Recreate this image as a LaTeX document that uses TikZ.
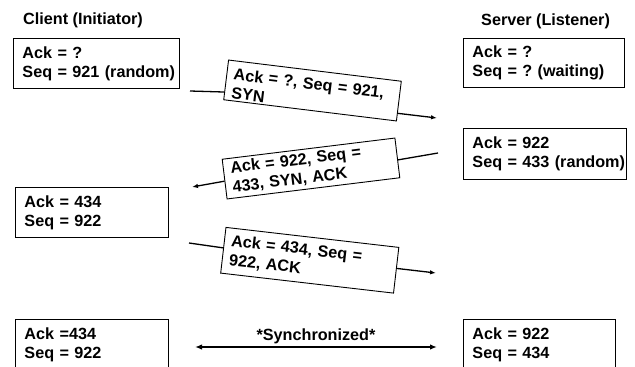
\documentclass[tikz,border=0pt]{standalone}
\usepackage{fontspec}
\setmainfont{Liberation Sans}
\usetikzlibrary{arrows.meta,calc}
\frenchspacing
\begin{document}
\begin{tikzpicture}[x=1pt,y=-1pt,
  every node/.style={font=\bfseries\fontsize{16.2}{19}\selectfont},
  statebox/.style={draw,line width=0.9pt,anchor=north west,inner xsep=9pt,inner ysep=0pt,align=left},
  msgbox/.style={draw,line width=0.9pt,fill=white,inner xsep=7pt,inner ysep=0pt,align=left,
    text width=160pt,font=\bfseries\fontsize{16.2}{19}\selectfont},
  msgline/.style={line width=1.3pt},
  msgarrow/.style={line width=1.3pt,-{Latex[length=6pt,width=4.5pt]}},
  syncarrow/.style={line width=1.8pt,{Latex[length=7pt,width=5.5pt]}-{Latex[length=7pt,width=5.5pt]}},
  header/.style={anchor=base west,inner sep=0pt}
]
\clip (0,0) rectangle (635,367);
% headers
\node[header] (hc) at (23,24) {Client (Initiator)};
\node[header] (hs) at (481,25) {Server (Listener)};
% state boxes
\node[statebox,minimum height=50pt,text width=148pt] (c1) at (13,38) {\mbox{Ack = ?}\\\mbox{Seq = 921 (random)}};
\node[statebox,minimum height=49pt,text width=143pt] (s1) at (463,38) {\mbox{Ack = ?}\\\mbox{Seq = ? (waiting)}};
\node[statebox,minimum height=51pt,text width=145pt] (s2) at (463,128) {\mbox{Ack = 922}\\\mbox{Seq = 433 (random)}};
\node[statebox,minimum height=50pt,text width=135pt] (c2) at (15,187) {\mbox{Ack = 434}\\\mbox{Seq = 922}};
\node[statebox,minimum height=50pt,text width=135pt] (c3) at (15,319) {\mbox{Ack =434}\\\mbox{Seq = 922}};
\node[statebox,minimum height=50pt,text width=134pt] (s3) at (463,319) {\mbox{Ack = 922}\\\mbox{Seq = 434}};
% messages
\node[msgbox,rotate=-7,minimum height=40pt] (m1) at (312.5,90.5) {\rule{0pt}{17pt}\mbox{Ack = ?, Seq = 921,}\\\mbox{SYN}};
\node[msgbox,rotate=7,minimum height=40pt] (m2) at (311,168.5) {\mbox{Ack = 922, Seq =}\\\mbox{433, SYN, ACK}};
\node[msgbox,rotate=-6.6,minimum height=46pt] (m3) at (309.75,260.25) {\mbox{Ack = 434, Seq =}\\\mbox{922, ACK}};
\coordinate (a1s) at (190,91);
\coordinate (a1e) at (437,118);
\coordinate (a2s) at (438,153);
\coordinate (a2e) at (192,187);
\coordinate (a3s) at (189,243);
\coordinate (a3e) at (436,273);
\draw[msgline] (a1s) -- ($(m1.north west)!0.8!(m1.south west)$);
\draw[msgarrow] ($(m1.north east)!0.8!(m1.south east)$) -- (a1e);
\draw[msgline] (a2s) -- ($(m2.north east)!0.55!(m2.south east)$);
\draw[msgarrow] ($(m2.north west)!0.55!(m2.south west)$) -- (a2e);
\draw[msgline] (a3s) -- ($(m3.north west)!0.45!(m3.south west)$);
\draw[msgarrow] ($(m3.north east)!0.46!(m3.south east)$) -- (a3e);
% synchronized
\coordinate (sy1) at (195,347);
\coordinate (sy2) at (437,347);
\draw[syncarrow] (sy1) -- (sy2);
\node[anchor=base,inner sep=0pt] (syl) at (316,340) {*Synchronized*};
\end{tikzpicture}
\end{document}
